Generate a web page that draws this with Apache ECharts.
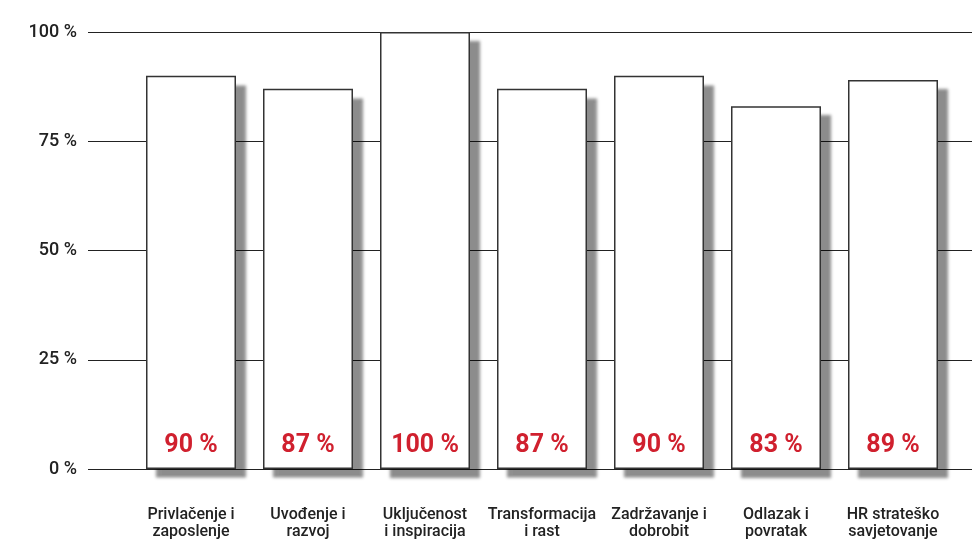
<!DOCTYPE html>
<html>
<head>
<meta charset="utf-8">
<script src="https://cdn.jsdelivr.net/npm/echarts@6/dist/echarts.min.js"></script>
<style>
  html, body { margin: 0; padding: 0; background: #fff; }
  #chart { width: 972px; height: 542px; }
</style>
</head>
<body>
<div id="chart"></div>
<script>
// podaci
var categories = [
  'Privlačenje i\nzaposlenje',
  'Uvođenje i\nrazvoj',
  'Uključenost\ni inspiracija',
  'Transformacija\ni rast',
  'Zadržavanje i\ndobrobit',
  'Odlazak i\npovratak',
  'HR strateško\nsavjetovanje'
];
var values = [90, 87, 100, 87, 90, 83, 89];
var yTicks = [0, 25, 50, 75, 100];

var myChart = echarts.init(document.getElementById('chart'));

myChart.setOption({
  animation: false,
  grid: [
    // gridlines + y labels
    { left: 88, right: 0, top: 32, bottom: 73 },
    // bars
    { left: 132.5, right: 20.5, top: 32, bottom: 73 }
  ],
  xAxis: [
    { gridIndex: 0, type: 'value', min: 0, max: 1, show: false },
    {
      gridIndex: 1,
      type: 'category',
      data: categories,
      axisLine: { show: false },
      axisTick: { show: false },
      axisLabel: {
        margin: 37,
        interval: 0,
        fontFamily: 'Roboto',
        fontSize: 16,
        fontWeight: 500,
        lineHeight: 17,
        color: '#222'
      }
    }
  ],
  yAxis: [
    {
      gridIndex: 0,
      type: 'value',
      min: 0,
      max: 100,
      interval: 25,
      axisLine: { show: false },
      axisTick: { show: false },
      splitLine: { lineStyle: { color: '#222', width: 1 } },
      axisLabel: {
        margin: 11,
        fontFamily: 'Roboto',
        fontSize: 18,
        fontWeight: 500,
        color: '#222',
        formatter: function (v) {
          return yTicks.indexOf(v) >= 0 ? v + ' %' : '';
        }
      }
    },
    { gridIndex: 1, type: 'value', min: 0, max: 100, show: false }
  ],
  series: [
    {
      // white fill with drop shadow
      type: 'bar',
      xAxisIndex: 1,
      yAxisIndex: 1,
      data: values,
      barWidth: 90,
      barGap: '-100%',
      silent: true,
      itemStyle: {
        color: '#fff',
        shadowColor: 'rgba(0,0,0,0.45)',
        shadowBlur: 3,
        shadowOffsetX: 10,
        shadowOffsetY: 9
      }
    },
    {
      // outline + value labels
      type: 'bar',
      xAxisIndex: 1,
      yAxisIndex: 1,
      data: values,
      barWidth: 90,
      barGap: '-100%',
      itemStyle: {
        color: 'rgba(255,255,255,0)',
        borderColor: '#333',
        borderWidth: 1.5
      },
      label: {
        show: true,
        position: 'insideBottom',
        distance: 11,
        formatter: '{c} %',
        fontFamily: 'Roboto',
        fontWeight: 'bold',
        fontSize: 25,
        color: '#d0202e'
      }
    }
  ]
});
</script>
</body>
</html>
